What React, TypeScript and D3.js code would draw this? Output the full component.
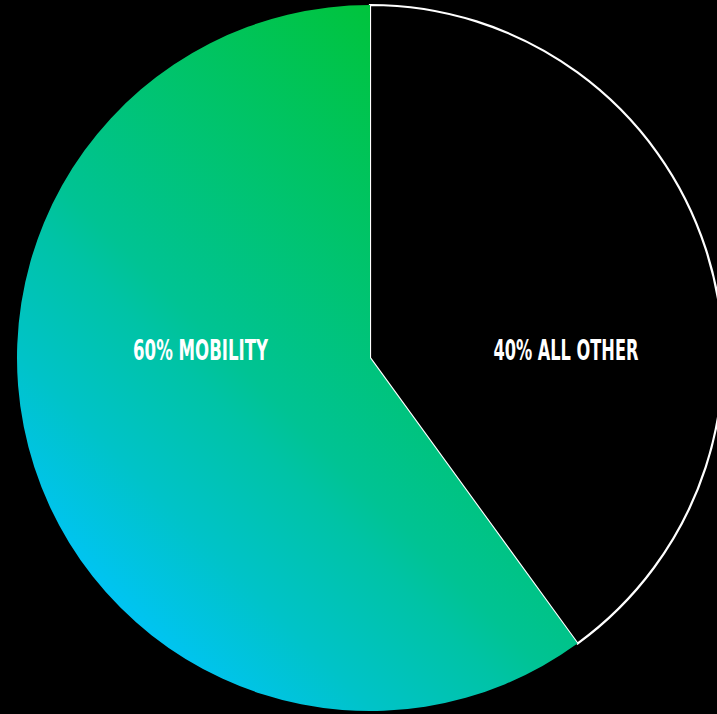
import React from "react";
import * as d3 from "d3";

const categories = ["ALL OTHER", "MOBILITY"];
const shares = [40, 60];
const labels = ["40% ALL OTHER", "60% MOBILITY"];

const W = 717;
const H = 714;

export default function App() {
  const cx = 370;
  const cy = 358;
  const R = 353;
  const pie = d3.pie<number>().sort(null).value((d) => d);
  const arcs = pie(shares);
  const arc = d3.arc<d3.PieArcDatum<number>>().innerRadius(0).outerRadius(R);
  const labelOffsets = [0.555, -0.48];
  const labelWidths = [145, 135];

  return (
    <div style={{ position: "fixed", left: 0, top: 0, width: W, height: H, background: "#000" }}>
      <svg width={W} height={H} style={{ display: "block" }}>
        <defs>
          <linearGradient id="mob" gradientUnits="userSpaceOnUse" x1={cx - 256} y1={cy + 256} x2={cx + 176} y2={cy - 176}>
            <stop offset="0" stopColor="#00c4f2" />
            <stop offset="0.175" stopColor="#00c3c8" />
            <stop offset="0.35" stopColor="#00c3a6" />
            <stop offset="0.42" stopColor="#00c394" />
            <stop offset="1" stopColor="#00c43a" />
          </linearGradient>
        </defs>
        <rect width={W} height={H} fill="#000" />
        <g transform={`translate(${cx},${cy})`}>
          {arcs.map((a, i) => (
            <path
              key={categories[i]}
              d={arc(a) || ""}
              fill={i === 1 ? "url(#mob)" : "#000"}
              stroke={i === 0 ? "#fff" : "none"}
              strokeWidth={2.2}
              strokeLinejoin="miter"
            />
          ))}
          {arcs.map((a, i) => (
            <text
              key={"l" + i}
              x={labelOffsets[i] * R}
              y={0}
              dy="0.35em"
              transform="translate(0,-8)"
              textAnchor="middle"
              fill="#fff"
              fontFamily="'Liberation Sans Narrow', 'DejaVu Sans Condensed', sans-serif"
              fontWeight="bold"
              fontSize={28}
              textLength={labelWidths[i]}
              lengthAdjust="spacingAndGlyphs"
            >
              {labels[i]}
            </text>
          ))}
        </g>
      </svg>
    </div>
  );
}
